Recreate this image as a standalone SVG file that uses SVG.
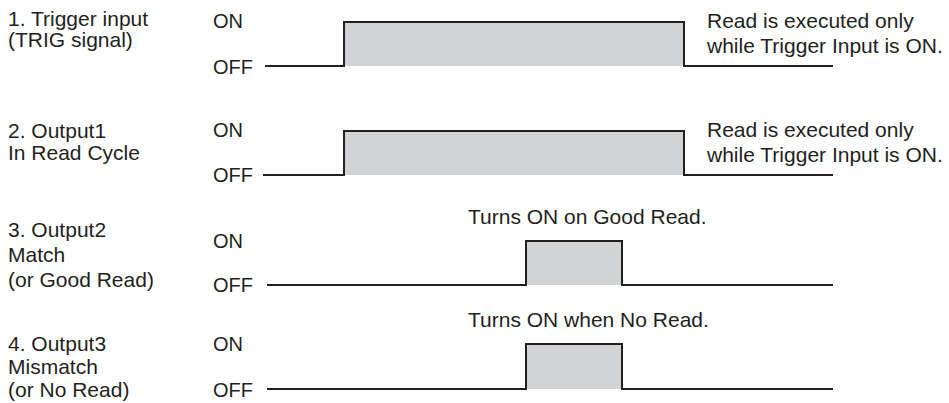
<svg xmlns="http://www.w3.org/2000/svg" width="949" height="403" viewBox="0 0 949 403">
<style>
text{font-family:"Liberation Sans",Arial,sans-serif;fill:#231f20}
.lb{font-size:21px}
.st{font-size:20px}
.fill{fill:#d1d3d4;stroke:none}
.sig{fill:none;stroke:#231f20;stroke-width:2;stroke-linejoin:miter}
</style>
<rect width="949" height="403" fill="#ffffff"/>
<g id="row1">
<text class="lb" x="8" y="26">1. Trigger input</text>
<text class="lb" x="8" y="47">(TRIG signal)</text>
<text class="st" x="213" y="28">ON</text>
<text class="st" x="213" y="74">OFF</text>
<rect class="fill" x="344" y="22" width="340" height="44"/>
<path class="sig" d="M265,66 H344 V22 H684 V66 H833"/>
<text class="lb" x="707" y="28">Read is executed only</text>
<text class="lb" x="707" y="53">while Trigger Input is ON.</text>
</g>
<g id="row2">
<text class="lb" x="8" y="138">2. Output1</text>
<text class="lb" x="8" y="160">In Read Cycle</text>
<text class="st" x="213" y="137">ON</text>
<text class="st" x="213" y="182">OFF</text>
<rect class="fill" x="344" y="131" width="340" height="44"/>
<path class="sig" d="M263,175 H344 V131 H684 V175 H833"/>
<text class="lb" x="707" y="137">Read is executed only</text>
<text class="lb" x="707" y="162">while Trigger Input is ON.</text>
</g>
<g id="row3">
<text class="lb" x="8" y="237">3. Output2</text>
<text class="lb" x="8" y="262">Match</text>
<text class="lb" x="8" y="287">(or Good Read)</text>
<text class="st" x="213" y="248">ON</text>
<text class="st" x="213" y="292">OFF</text>
<rect class="fill" x="526" y="241" width="96" height="44"/>
<path class="sig" d="M267,285 H526 V241 H622 V285 H833"/>
<text class="lb" x="468" y="224">Turns ON on Good Read.</text>
</g>
<g id="row4">
<text class="lb" x="8" y="351">4. Output3</text>
<text class="lb" x="8" y="374">Mismatch</text>
<text class="lb" x="8" y="397">(or No Read)</text>
<text class="st" x="213" y="351">ON</text>
<text class="st" x="213" y="397">OFF</text>
<rect class="fill" x="526" y="344" width="96" height="45"/>
<path class="sig" d="M267,389 H526 V344 H622 V389 H833"/>
<text class="lb" x="468" y="327">Turns ON when No Read.</text>
</g>
</svg>
